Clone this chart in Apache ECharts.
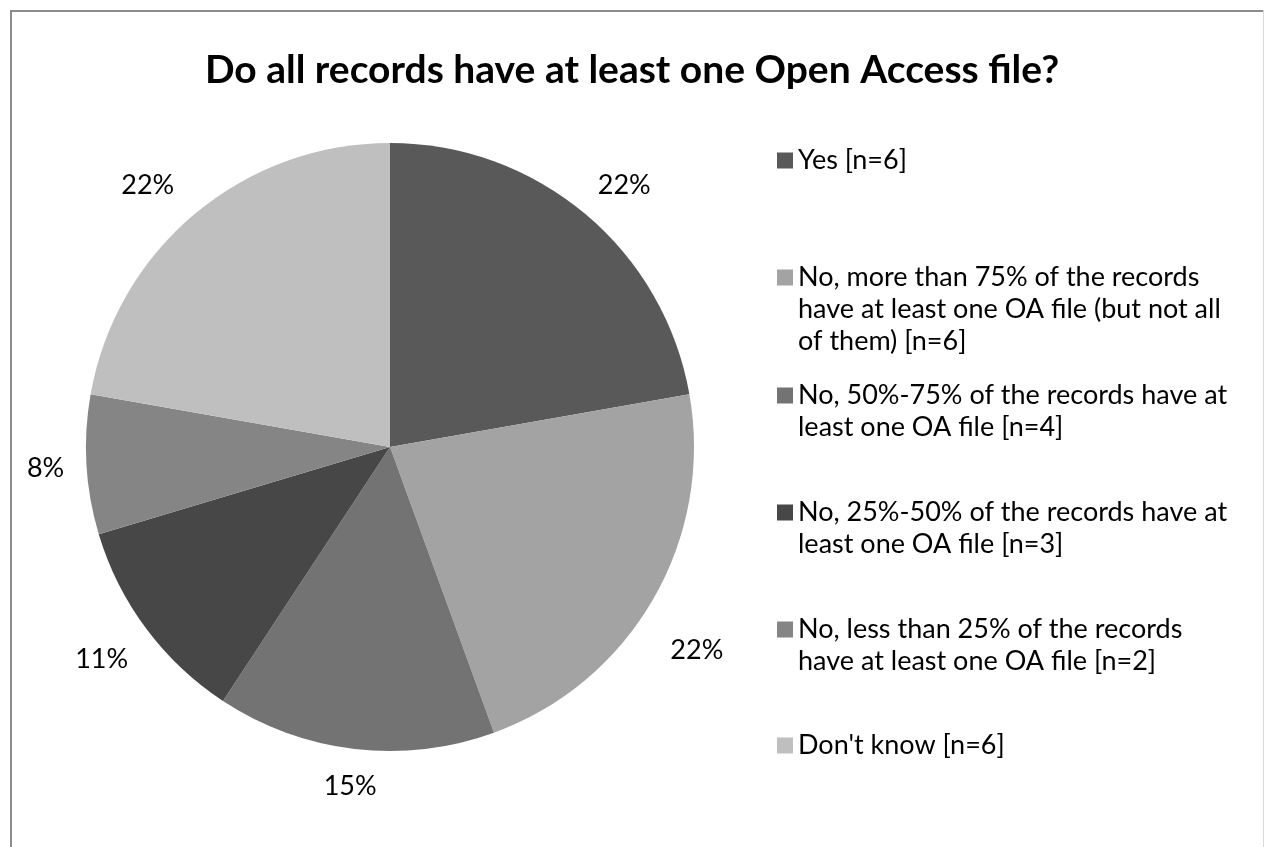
<!DOCTYPE html>
<html><head><meta charset="utf-8">
<script src="https://cdn.jsdelivr.net/npm/echarts@6/dist/echarts.min.js"></script>
<style>html,body{margin:0;padding:0;background:#fff;overflow:hidden}#c{width:1264px;height:847px}</style>
</head><body><div id="c"></div>
<script>
const categories = [
  'Yes [n=6]',
  'No, more than 75% of the records have at least one OA file (but not all of them) [n=6]',
  'No, 50%-75% of the records have at least one OA file [n=4]',
  'No, 25%-50% of the records have at least one OA file [n=3]',
  'No, less than 25% of the records have at least one OA file [n=2]',
  "Don't know [n=6]"
];
const legendLines = [
  ['Yes [n=6]'],
  ['No, more than 75% of the records', 'have at least one OA file (but not all', 'of them) [n=6]'],
  ['No, 50%-75% of the records have at', 'least one OA file [n=4]'],
  ['No, 25%-50% of the records have at', 'least one OA file [n=3]'],
  ['No, less than 25% of the records', 'have at least one OA file [n=2]'],
  ["Don't know [n=6]"]
];
const counts = [6, 6, 4, 3, 2, 6];
const percentLabels = ['22%', '22%', '15%', '11%', '8%', '22%'];
const sliceColors = ['#595959', '#a3a3a3', '#737373', '#474747', '#858585', '#bfbfbf'];
const titleText = 'Do all records have at least one Open Access file?';

const FONT = 'Lato';
const FS = 27;
const LH = 32;
const legendFirstLineCenters = [158, 275, 393, 510, 627, 743];
const labelPads = [[16, 0, 0, 16], [54, 0, 0, 4], [0, 0, 20, 2], [4, 12, 0, 0], [2, 0, 0, 14], [16, 32, 0, 0]];

const chart = echarts.init(document.getElementById('c'), null, {renderer: 'canvas'});

const legends = categories.map((name, i) => {
  const n = legendLines[i].length;
  const lines = new Array(n - 1).fill('').concat(legendLines[i]);
  return {
    data: [name],
    orient: 'vertical',
    left: 777,
    top: legendFirstLineCenters[i] - (n - 1) * LH - FS / 2,
    padding: 0,
    itemWidth: 16,
    itemHeight: 16,
    selectedMode: false,
    icon: 'rect',
    formatter: () => lines.join('\n'),
    textStyle: {fontFamily: FONT, fontSize: FS, color: '#000', lineHeight: LH}
  };
});

const data = categories.map((name, i) => ({
  name, value: counts[i], itemStyle: {color: sliceColors[i]}
}));
const labelData = categories.map((name, i) => ({
  name, value: counts[i],
  label: {
    formatter: '{p|' + percentLabels[i] + '}',
    rich: {p: {fontFamily: FONT, fontSize: FS, color: '#000', padding: labelPads[i]}}
  }
}));

chart.setOption({
  backgroundColor: '#fff',
  animation: false,
  title: {
    text: titleText, left: 'center', top: 51, padding: 0,
    textStyle: {fontFamily: FONT, fontSize: 39, fontWeight: 'bold', color: '#000'}
  },
  legend: legends,
  graphic: [
    {type: 'rect', silent: true, shape: {x: 11, y: 11, width: 1300, height: 900},
     style: {fill: 'none', stroke: '#8c8c8c', lineWidth: 2}},
    {type: 'line', silent: true, shape: {x1: 1263.5, y1: 10, x2: 1263.5, y2: 847},
     style: {stroke: '#d9d9d9', lineWidth: 1}}
  ],
  series: [
    {
      type: 'pie', center: [390, 447], radius: [0, 304], startAngle: 90, clockwise: true,
      silent: true, label: {show: false}, labelLine: {show: false},
      itemStyle: {borderWidth: 0},
      emphasis: {disabled: true},
      data
    },
    {
      type: 'pie', center: [390, 447], radius: [304, 394], startAngle: 90, clockwise: true,
      silent: true, itemStyle: {color: 'rgba(0,0,0,0)', borderWidth: 0},
      label: {show: true, position: 'inside', fontFamily: FONT, fontSize: FS, color: '#000'},
      labelLine: {show: false},
      emphasis: {disabled: true},
      data: labelData
    }
  ]
});
</script></body></html>
